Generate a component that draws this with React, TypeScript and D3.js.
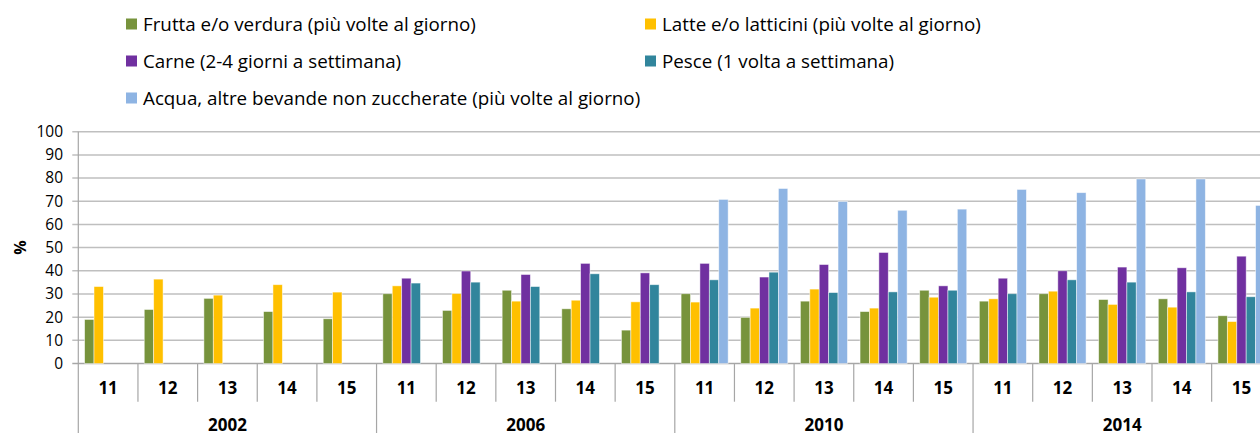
import React from "react";
import * as d3 from "d3";

const years = ["2002", "2006", "2010", "2014"];
const ages = ["11", "12", "13", "14", "15"];

const seriesNames = [
  "Frutta e/o verdura (più volte al giorno)",
  "Latte e/o latticini (più volte al giorno)",
  "Carne (2-4 giorni a settimana)",
  "Pesce (1 volta a settimana)",
  "Acqua, altre bevande non zuccherate (più volte al giorno)",
];
const seriesColors = ["#77933C", "#FFC000", "#7030A0", "#31859C", "#8EB4E3"];

const frutta = [19.0, 23.3, 28.1, 22.4, 19.3, 30.1, 22.9, 31.6, 23.6, 14.4, 30.1, 19.9, 26.9, 22.4, 31.6, 26.9, 30.1, 27.6, 27.9, 20.6];
const latte = [33.2, 36.4, 29.5, 34.0, 30.8, 33.5, 30.2, 26.9, 27.3, 26.6, 26.5, 23.9, 32.1, 23.9, 28.6, 27.9, 31.2, 25.5, 24.3, 18.1];
const carne = [null, null, null, null, null, 36.8, 39.9, 38.4, 43.2, 39.1, 43.2, 37.3, 42.7, 47.9, 33.5, 36.8, 40.0, 41.6, 41.3, 46.3];
const pesce = [null, null, null, null, null, 34.7, 35.1, 33.2, 38.7, 34.0, 36.1, 39.4, 30.6, 30.9, 31.6, 30.1, 36.1, 35.1, 30.9, 28.8];
const acqua = [null, null, null, null, null, null, null, null, null, null, 70.8, 75.5, 69.9, 66.1, 66.6, 75.1, 73.7, 79.6, 79.6, 68.2];

const seriesValues: (number | null)[][] = [frutta, latte, carne, pesce, acqua];
const yTicks = [0, 10, 20, 30, 40, 50, 60, 70, 80, 90, 100];

const W = 1260;
const H = 433;
const plotLeft = 78.3;
const groupW = 59.65;
const plotRight = plotLeft + groupW * 20;
const yTop = 131.7;
const yBottom = 363.5;

const FONT = "'Open Sans', sans-serif";

export default function App() {
  const groups = years.flatMap((y) => ages.map((a) => `${y}-${a}`));
  const x = d3.scaleBand<string>().domain(groups).range([plotLeft, plotRight]).padding(0);
  const inner = d3
    .scaleBand<number>()
    .domain([0, 1, 2, 3, 4])
    .range([6.3, groupW - 6.3])
    .padding(0);
  const y = d3.scaleLinear().domain([0, 100]).range([yBottom, yTop]);

  const legendPos = [
    { mx: 126, by: 30.5 },
    { mx: 645, by: 30.5 },
    { mx: 126, by: 67.5 },
    { mx: 645, by: 67.5 },
    { mx: 126, by: 104.5 },
  ];

  const gridColor = "#BFBFBF";
  const axisColor = "#A6A6A6";

  return (
    <svg
      width={W}
      height={H}
      style={{ position: "absolute", left: 0, top: 0, display: "block", background: "#fff" }}
      fontFamily={FONT}
    >
      <defs>
        <clipPath id="clip">
          <rect x={0} y={0} width={W} height={H} />
        </clipPath>
      </defs>
      {/* Legend */}
      {seriesNames.map((name, i) => (
        <g key={name}>
          <rect x={legendPos[i].mx} y={legendPos[i].by - 12} width={11} height={11} fill={seriesColors[i]} />
          <text x={legendPos[i].mx + 17} y={legendPos[i].by} fontSize={18.8} fill="#000">
            {name}
          </text>
        </g>
      ))}

      {/* Gridlines */}
      {yTicks.map((t) => (
        <g key={t}>
          <line
            x1={plotLeft - 6}
            x2={W}
            y1={y(t)}
            y2={y(t)}
            stroke={t === 0 ? axisColor : gridColor}
            strokeWidth={1.5}
          />
          <text x={63} y={y(t)} dy="0.35em" textAnchor="end" fontSize={15.5} fill="#000">
            {t}
          </text>
        </g>
      ))}

      {/* Y axis line */}
      <line x1={plotLeft} x2={plotLeft} y1={yTop} y2={H} stroke={axisColor} strokeWidth={1.2} />

      <text
        transform={`translate(20, ${(yTop + yBottom) / 2}) rotate(-90)`}
        textAnchor="middle"
        dy="0.35em"
        fontSize={16}
        fontWeight="bold"
        fill="#000"
      >
        %
      </text>

      {/* Bars */}
      <g clipPath="url(#clip)">
        {groups.map((g, gi) =>
          seriesValues.map((vals, si) => {
            const v = vals[gi];
            if (v == null) return null;
            const bx = (x(g) as number) + (inner(si) as number);
            return (
              <rect
                key={`${g}-${si}`}
                x={bx}
                y={y(v)}
                width={inner.bandwidth()}
                height={yBottom - y(v)}
                fill={seriesColors[si]}
                stroke="#ffffff"
                strokeOpacity={0.6}
                strokeWidth={0.8}
              />
            );
          })
        )}
      </g>

      {/* X axis categories */}
      {groups.map((g, gi) => {
        const gx = x(g) as number;
        const isYearStart = gi % 5 === 0;
        return (
          <g key={`ax-${g}`}>
            {gi > 0 && (
              <line
                x1={gx}
                x2={gx}
                y1={yBottom}
                y2={isYearStart ? H : 401.7}
                stroke={axisColor}
                strokeWidth={1.2}
              />
            )}
            <text
              x={gx + groupW / 2}
              y={388.5}
              dy="0.35em"
              textAnchor="middle"
              fontSize={17}
              fontWeight="bold"
              fill="#000"
            >
              {ages[gi % 5]}
            </text>
          </g>
        );
      })}
      {years.map((yr, yi) => (
        <text
          key={yr}
          x={plotLeft + groupW * 5 * yi + (groupW * 5) / 2}
          y={425}
          dy="0.35em"
          textAnchor="middle"
          fontSize={17}
          fontWeight="bold"
          fill="#000"
        >
          {yr}
        </text>
      ))}
    </svg>
  );
}
